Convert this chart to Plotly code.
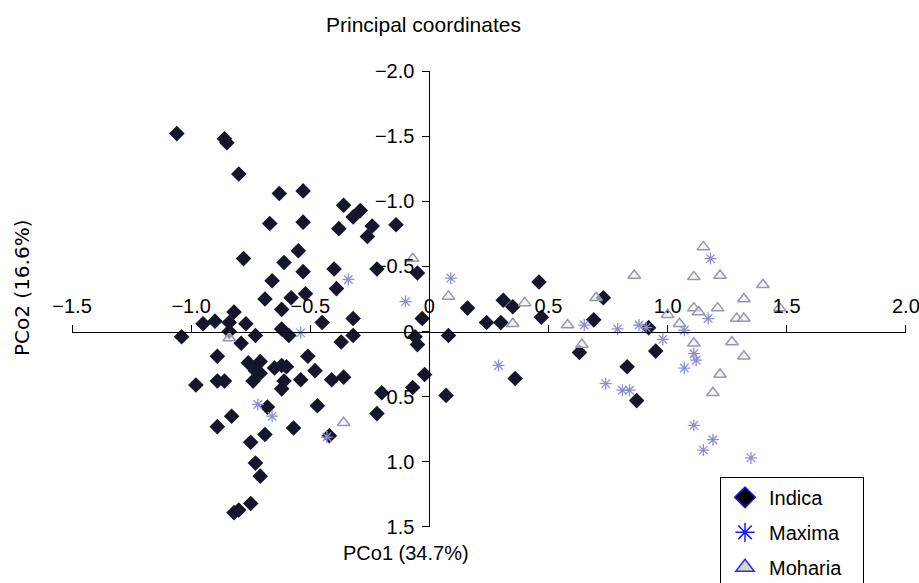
import plotly.graph_objects as go

# ---- data ----
indica_x = [-1.06, -0.86, -0.85, -0.80, -0.63, -0.53, -0.67, -0.53, -0.36, -0.32, -0.29, -0.38, -0.24, -0.14,
            -0.26, -0.78, -0.55, -0.61, -0.53, -0.66, -0.40, -0.39, -0.22, -0.05, -0.69, -0.58, -0.52, -0.82,
            -0.95, -0.90, -0.84, -0.77, -0.62, -0.62, -0.59, -0.45, -0.32, -0.32, -0.37, -1.04, -0.84, -0.79,
            -0.73, -0.89, -0.76, -0.71, -0.73, -0.71, -0.65, -0.62, -0.60, -0.51, -0.48, -0.98, -0.89, -0.86,
            -0.74, -0.61, -0.62, -0.54, -0.41, -0.36, -0.20, -0.07, -0.02, 0.07, -0.06, -0.05, -0.03, -0.68,
            -0.83, -0.89, -0.69, -0.75, -0.57, -0.47, -0.22, -0.42, -0.73, -0.71, -0.75, -0.82, -0.80, 0.16,
            0.31, 0.35, 0.24, 0.30, 0.46, 0.47, 0.73, 0.69, 0.92, 0.63, 0.95, 0.83, 0.08, 0.36, 0.87]
indica_y = [-1.52, -1.48, -1.45, -1.21, -1.06, -1.08, -0.83, -0.84, -0.97, -0.88, -0.93, -0.79, -0.81, -0.82,
            -0.73, -0.56, -0.62, -0.53, -0.46, -0.39, -0.48, -0.33, -0.48, -0.45, -0.25, -0.26, -0.29, -0.15,
            -0.06, -0.08, -0.07, -0.06, -0.17, -0.02, 0.03, -0.07, -0.10, 0.03, 0.08, 0.04, 0.00, 0.09,
            0.03, 0.19, 0.24, 0.23, 0.30, 0.32, 0.28, 0.26, 0.27, 0.19, 0.30, 0.41, 0.38, 0.38,
            0.38, 0.38, 0.44, 0.37, 0.37, 0.35, 0.47, 0.43, 0.33, 0.49, 0.04, 0.10, -0.10, 0.58,
            0.65, 0.73, 0.79, 0.85, 0.74, 0.57, 0.63, 0.80, 1.01, 1.11, 1.32, 1.39, 1.37, -0.18,
            -0.24, -0.19, -0.07, -0.07, -0.38, -0.11, -0.26, -0.09, -0.03, 0.16, 0.15, 0.27, 0.03, 0.36, 0.53]

maxima_x = [-0.34, -0.10, 0.09, -0.54, -0.72, -0.66, -0.43, 0.29, 0.65, 0.79, 0.88, 0.91, 0.98,
            0.74, 0.81, 0.84, 1.07, 1.11, 1.18, 1.17, 1.07, 1.11, 1.12, 1.19, 1.15, 1.35]
maxima_y = [-0.40, -0.23, -0.41, 0.01, 0.56, 0.65, 0.81, 0.26, -0.05, -0.02, -0.05, -0.03, 0.06,
            0.40, 0.45, 0.45, 0.28, 0.72, -0.56, -0.10, -0.01, 0.17, 0.22, 0.83, 0.91, 0.97]

moharia_x = [-0.07, 0.08, 0.40, 0.35, 0.58, 0.70, 0.86, 0.64, -0.36, -0.84, 1.15, 1.11, 1.22, 1.40,
             1.32, 1.21, 1.11, 1.13, 1.00, 1.29, 1.32, 1.47, 1.05, 1.11, 1.27, 1.32, 1.22, 1.19]
moharia_y = [-0.56, -0.27, -0.22, -0.06, -0.05, -0.26, -0.43, 0.10, 0.70, 0.05, -0.65, -0.42, -0.43, -0.36,
             -0.25, -0.18, -0.18, -0.15, -0.13, -0.10, -0.10, -0.18, -0.06, 0.09, 0.08, 0.19, 0.33, 0.47]

series_names = ["Indica", "Maxima", "Moharia\u00a0\u00a0\u00a0"]
tick_vals = [-2.0, -1.5, -1.0, -0.5, 0.0, 0.5, 1.0, 1.5, 2.0]
tick_text = ["\u22122.0", "\u22121.5", "\u22121.0", "\u22120.5", "0", "0.5", "1.0", "1.5", "2.0"]

x_range = [-1.5, 2.0005]
y_range = [1.5005, -2.0005]   # reversed: negative values at top

FONT = "Liberation Sans, Arial, sans-serif"

fig = go.Figure()

# data traces (faded, as in the reference)
fig.add_trace(go.Scatter(x=indica_x, y=indica_y, mode="markers", showlegend=False,
                         marker=dict(symbol="diamond", size=12, color="#15152b",
                                     line=dict(width=0))))
fig.add_trace(go.Scatter(x=maxima_x, y=maxima_y, mode="markers", showlegend=False,
                         marker=dict(symbol="asterisk-open", size=10, color="#8c8fd4",
                                     line=dict(width=1.3, color="#8c8fd4"))))
fig.add_trace(go.Scatter(x=moharia_x, y=moharia_y, mode="markers", showlegend=False,
                         marker=dict(symbol="triangle-up", size=11, color="rgba(235,236,232,0.6)",
                                     line=dict(width=1.5, color="#9597b5"))))

# legend-only traces with saturated styles
fig.add_trace(go.Scatter(x=[None], y=[None], mode="markers", name=series_names[0], legendgroup="a",
                         marker=dict(symbol="diamond", size=16, color="black",
                                     line=dict(width=1.5, color="#1a1aff"))))
fig.add_trace(go.Scatter(x=[None], y=[None], mode="markers", name=series_names[1], legendgroup="b",
                         marker=dict(symbol="asterisk-open", size=16, color="#1a1aff",
                                     line=dict(width=1.5, color="#1a1aff"))))
fig.add_trace(go.Scatter(x=[None], y=[None], mode="markers", name=series_names[2], legendgroup="c",
                         marker=dict(symbol="triangle-up", size=16, color="#d5dbc3",
                                     line=dict(width=1.5, color="#2a2aff"))))

axis_common = dict(
    showgrid=False, zeroline=False, showline=True, linecolor="black", linewidth=1,
    ticks="outside", ticklen=7, tickwidth=1, tickcolor="black",
    tickmode="array", tickvals=tick_vals, ticktext=tick_text,
    tickfont=dict(family=FONT, size=20, color="black"),
    ticklabelstandoff=4, automargin=False, ticklabeloverflow="allow",
)

fig.update_layout(
    width=919, height=583,
    margin=dict(l=72, r=13, t=71, b=56, autoexpand=False),
    paper_bgcolor="white", plot_bgcolor="white",
    font=dict(family=FONT, size=20, color="black"),
    xaxis=dict(range=x_range, side="top", anchor="free", position=(0 - y_range[0]) / (y_range[1] - y_range[0]),
               **axis_common),
    yaxis=dict(range=y_range, anchor="free", position=(0 - x_range[0]) / (x_range[1] - x_range[0]),
               **axis_common),
    legend=dict(x=0.777, y=0.11, xanchor="left", yanchor="top",
                bordercolor="black", borderwidth=1, bgcolor="white",
                font=dict(family=FONT, size=20, color="black"),
                tracegroupgap=6, itemsizing="trace", itemwidth=38),
    annotations=[
        dict(text="Principal coordinates", xref="paper", yref="paper", x=0.422, y=1.101,
             xanchor="center", yanchor="middle", showarrow=False,
             font=dict(family=FONT, size=21, color="black")),
        dict(text="PCo1 (34.7%)", xref="paper", yref="paper", x=0.4005, y=-0.057,
             xanchor="center", yanchor="middle", showarrow=False,
             font=dict(family=FONT, size=20, color="black")),
        dict(text="PCo2 (16.6%)", xref="paper", yref="paper", x=-0.06, y=0.524, textangle=-90,
             xanchor="center", yanchor="middle", showarrow=False,
             font=dict(family="DejaVu Sans, sans-serif", size=20, color="black")),
    ],
)

# remove the browser's default 8 px page margin so the figure sits at the window's top-left
fig.write_html("out.html", config={"displayModeBar": False},
               post_script="document.body.style.margin='0';document.body.style.overflow='hidden';")
